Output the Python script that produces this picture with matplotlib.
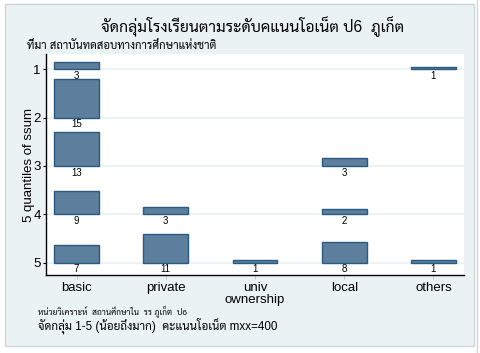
import matplotlib
matplotlib.use("Agg")
import matplotlib.pyplot as plt
from matplotlib.patches import Rectangle

# categories and counts (rows = quantile 1..5)
categories = ["basic", "private", "univ\nownership", "local", "others"]
quantiles = [1, 2, 3, 4, 5]
basic = [3, 15, 13, 9, 7]
private = [0, 0, 0, 3, 11]
univ = [0, 0, 0, 0, 1]
local = [0, 0, 3, 2, 8]
others = [1, 0, 0, 0, 1]
counts = [basic, private, univ, local, others]

title = "จัดกลุ่มโรงเรียนตามระดับคแนนโอเน็ต ป6  ภูเก็ต"
subtitle = "ที่มา สถาบันทดสอบทางการศึกษาแห่งชาติ"
note1 = "หน่วยวิเคราะห์  สถานศึกษาใน  รร ภูเก็ต  ป6"
note2 = "จัดกลุ่ม 1-5 (น้อยถึงมาก)  คะแนนโอเน็ต mxx=400"

fam = ["Liberation Sans", "Sarabun", "Niramit", "DejaVu Sans"]
plt.rcParams["font.family"] = fam

bg = "#eaf2f3"
fill = "#5b7f9c"
edge = "#2a5a82"

fig = plt.figure(figsize=(4.81, 3.53), dpi=100)
fig.patch.set_facecolor("white")
W, H = 481.0, 353.0
fig.patches.append(Rectangle((5 / W, 1 - 346 / H), 469 / W, 342 / H,
                             transform=fig.transFigure, facecolor=bg,
                             edgecolor="#cfd6d8", linewidth=1.0, zorder=-5))
fig.add_artist(plt.Line2D([477 / W, 477 / W], [0, 1], color="#d5d5d5", lw=1, zorder=-5))

ax = fig.add_axes([46 / W, 1 - 275 / H, (464 - 46) / W, (275 - 54) / H])
ax.set_facecolor("white")

vmax = max(max(c) for c in counts)
scale = 0.8 / vmax
for i, col in enumerate(counts):
    x = i + 1
    for q, v in zip(quantiles, col):
        if v == 0:
            continue
        ax.bar(x, v * scale, bottom=q - v * scale, width=0.5, color=fill,
               edgecolor=edge, linewidth=1.0, zorder=3)
        ax.annotate(str(v), (x, q), xytext=(0, -1.2), textcoords="offset points",
                    ha="center", va="top", fontsize=7, zorder=4)

ax.set_xlim(0.658, 5.342)
ax.set_ylim(5.255, 0.683)
ax.set_yticks(quantiles)
ax.set_yticklabels([str(q) for q in quantiles], fontsize=9.5)
ax.set_xticks(range(1, 6))
ax.set_xticklabels(categories, fontsize=9.5, linespacing=1.0)
ax.tick_params(axis="x", length=3, color="#c8c8c8", pad=2)
ax.tick_params(axis="y", length=2.2, color="black", pad=1.5)
ax.grid(axis="y", color=bg, linewidth=1.2, zorder=0)
ax.set_axisbelow(True)
for s in ["top", "right"]:
    ax.spines[s].set_visible(False)
ax.spines["left"].set_linewidth(1.0)
ax.spines["bottom"].set_linewidth(1.0)
ax.set_ylabel("5 quantiles of ssum", fontsize=9.5, labelpad=-1)

fig.text(253 / W, 1 - 27 / H, title, ha="center", va="center", fontsize=11.3)
fig.text(27 / W, 1 - 45 / H, subtitle, ha="left", va="center", fontsize=8.1)
fig.text(38 / W, 1 - 312 / H, note1, ha="left", va="center", fontsize=6.0)
fig.text(38 / W, 1 - 326 / H, note2, ha="left", va="center", fontsize=8.4)

fig.savefig("out.png", dpi=100)
